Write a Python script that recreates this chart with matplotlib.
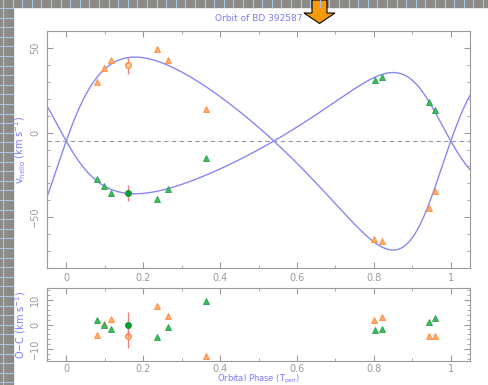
import numpy as np
import matplotlib.pyplot as plt
from matplotlib.patches import Rectangle, Polygon

# orbit solution
P_ecc = 0.30
omega1 = 244.3  # deg, primary
K1 = 57.0
K2 = 35.8
gamma = -5.0
t_peri = -0.0486

# primary (orange) radial velocities
ph_p = [0.081, 0.097, 0.116, 0.237, 0.265, 0.363, 0.801, 0.821, 0.944, 0.959]
rv_p = [30.0, 38.1, 43.1, 49.2, 42.9, 14.1, -63.1, -64.1, -44.6, -34.3]
oc_p = [-4.3, 0.2, 2.4, 7.5, 3.4, -12.8, 2.0, 3.1, -4.6, -4.6]

# secondary (green) radial velocities
ph_s = [0.081, 0.097, 0.116, 0.237, 0.265, 0.363, 0.803, 0.820, 0.944, 0.960]
rv_s = [-27.4, -31.5, -35.7, -39.3, -33.5, -14.9, 31.0, 32.7, 18.1, 13.5]
oc_s = [2.0, 0.0, -2.0, -5.2, -0.9, 9.7, -2.2, -1.9, 1.0, 2.8]

# the single point with error bar
ph_e = 0.160
rv_pe, oc_pe = 39.7, -4.6
rv_se, oc_se = -35.7, 0.0
err_e = 5.0


def rv_curve(phase, K, om):
    M = 2*np.pi*(phase - t_peri)
    E = M.copy()
    for i in range(50):
        E = E - (E - P_ecc*np.sin(E) - M)/(1 - P_ecc*np.cos(E))
    nu = 2*np.arctan2(np.sqrt(1+P_ecc)*np.sin(E/2), np.sqrt(1-P_ecc)*np.cos(E/2))
    w = np.radians(om)
    return gamma + K*(np.cos(nu + w) + P_ecc*np.cos(w))


W, H = 489, 385
fig = plt.figure(figsize=(W/100, H/100), dpi=100)

# slide background bits
bg = fig.add_axes([0, 0, 1, 1])
bg.set_xlim(0, W)
bg.set_ylim(H, 0)
bg.axis('off')
bg.add_patch(Rectangle((0, 0), 13, H, color='#8c8a86'))
bg.add_patch(Rectangle((0, 0), W, 7, color='#8c8a86'))
for gx in np.arange(3, W, 9.6):
    bg.plot([gx, gx], [0, 7], color='#a8c4ea', lw=0.8)
for gy in np.arange(8, H, 9.6):
    bg.plot([0, 13], [gy, gy], color='#a8c4ea', lw=0.8)
bg.plot([3, 3], [0, H], color='#a8c4ea', lw=0.8)
bg.add_patch(Polygon([[312, 0], [327, 0], [327, 13], [335, 13], [319.5, 23.5],
                      [304, 13], [312, 13]], closed=True, facecolor='#f59a0c',
                     edgecolor='black', lw=0.8))

grey = '#9a9a9a'
blue = '#7a7aff'
curve_c = '#8888f4'
orange = '#ffaa66'
orange_e = '#ff8c40'
green = '#3cbb5c'


def style(ax):
    for s in ax.spines.values():
        s.set_color(grey)
    ax.tick_params(which='both', direction='in', top=True, right=True, color=grey,
                   labelcolor=grey, labelsize=7)
    ax.tick_params(which='major', length=4)
    ax.tick_params(which='minor', length=2)
    ax.tick_params(axis='y', pad=5)
    ax.set_xlim(-0.05, 1.05)
    ax.set_xticks([0, 0.2, 0.4, 0.6, 0.8, 1.0])
    ax.set_xticklabels(['0', '0.2', '0.4', '0.6', '0.8', '1'])
    ax.set_xticks(np.arange(0, 1.05, 0.1), minor=True)
    for lab in ax.get_yticklabels():
        lab.set_rotation(90)
        lab.set_va('center')


ax1 = fig.add_axes([47/W, 1-268/H, 423/W, 237/H])
ax2 = fig.add_axes([47/W, 1-361/H, 423/W, 73/H])

x = np.linspace(-0.05, 1.05, 600)
ax1.plot(x, rv_curve(x, K1, omega1), color=curve_c, lw=1)
ax1.plot(x, rv_curve(x, -K2, omega1), color=curve_c, lw=1)
ax1.axhline(gamma, color=grey, ls=(0, (4, 3)), lw=0.8)

ax1.plot(ph_p, rv_p, '^', ms=5, mfc=orange, mec=orange_e, mew=0.6)
ax1.plot(ph_s, rv_s, '^', ms=5, mfc=green, mec='#2aa04a', mew=0.6)
ax1.errorbar([ph_e], [rv_pe], yerr=err_e, fmt='o', ms=4, mfc='#ffd0a0', mec=orange_e,
             ecolor='#f08080', elinewidth=1, capsize=0)
ax1.errorbar([ph_e], [rv_se], yerr=err_e, fmt='o', ms=4, mfc='#119933', mec='#119933',
             ecolor='#f08080', elinewidth=1, capsize=0, zorder=5)

ax1.set_ylim(-80, 60)
ax1.set_yticks([-50, 0, 50])
ax1.set_yticks(np.arange(-80, 61, 10), minor=True)
style(ax1)
ax1.set_ylabel(r'v$_{\rm helio}$ (km s$^{-1}$)', color=blue, fontsize=7)
ax1.yaxis.set_label_coords(-0.045, 0.5)
ax1.set_title('Orbit of BD 392587', color=blue, fontsize=6.5, pad=7)

ax2.plot(ph_p, oc_p, '^', ms=5, mfc=orange, mec=orange_e, mew=0.6)
ax2.plot(ph_s, oc_s, '^', ms=5, mfc=green, mec='#2aa04a', mew=0.6)
ax2.errorbar([ph_e], [oc_pe], yerr=err_e, fmt='o', ms=4, mfc='#ffd0a0', mec=orange_e,
             ecolor='#f08080', elinewidth=1, capsize=0)
ax2.errorbar([ph_e], [oc_se], yerr=err_e, fmt='o', ms=4, mfc='#119933', mec='#119933',
             ecolor='#f08080', elinewidth=1, capsize=0, zorder=5)
ax2.set_ylim(-15, 15)
ax2.set_yticks([-10, 0, 10])
ax2.set_yticks(np.arange(-14, 15, 2), minor=True)
style(ax2)
ax2.tick_params(axis='x', pad=2)
ax2.set_ylabel(r'O$-$C (km s$^{-1}$)', color=blue, fontsize=7)
ax2.yaxis.set_label_coords(-0.045, 0.5)
ax2.set_xlabel(r'Orbital Phase (T$_{\rm peri}$)', color=blue, fontsize=6)
ax2.xaxis.set_label_coords(0.5, -0.165)

fig.savefig('out.png', dpi=100)
